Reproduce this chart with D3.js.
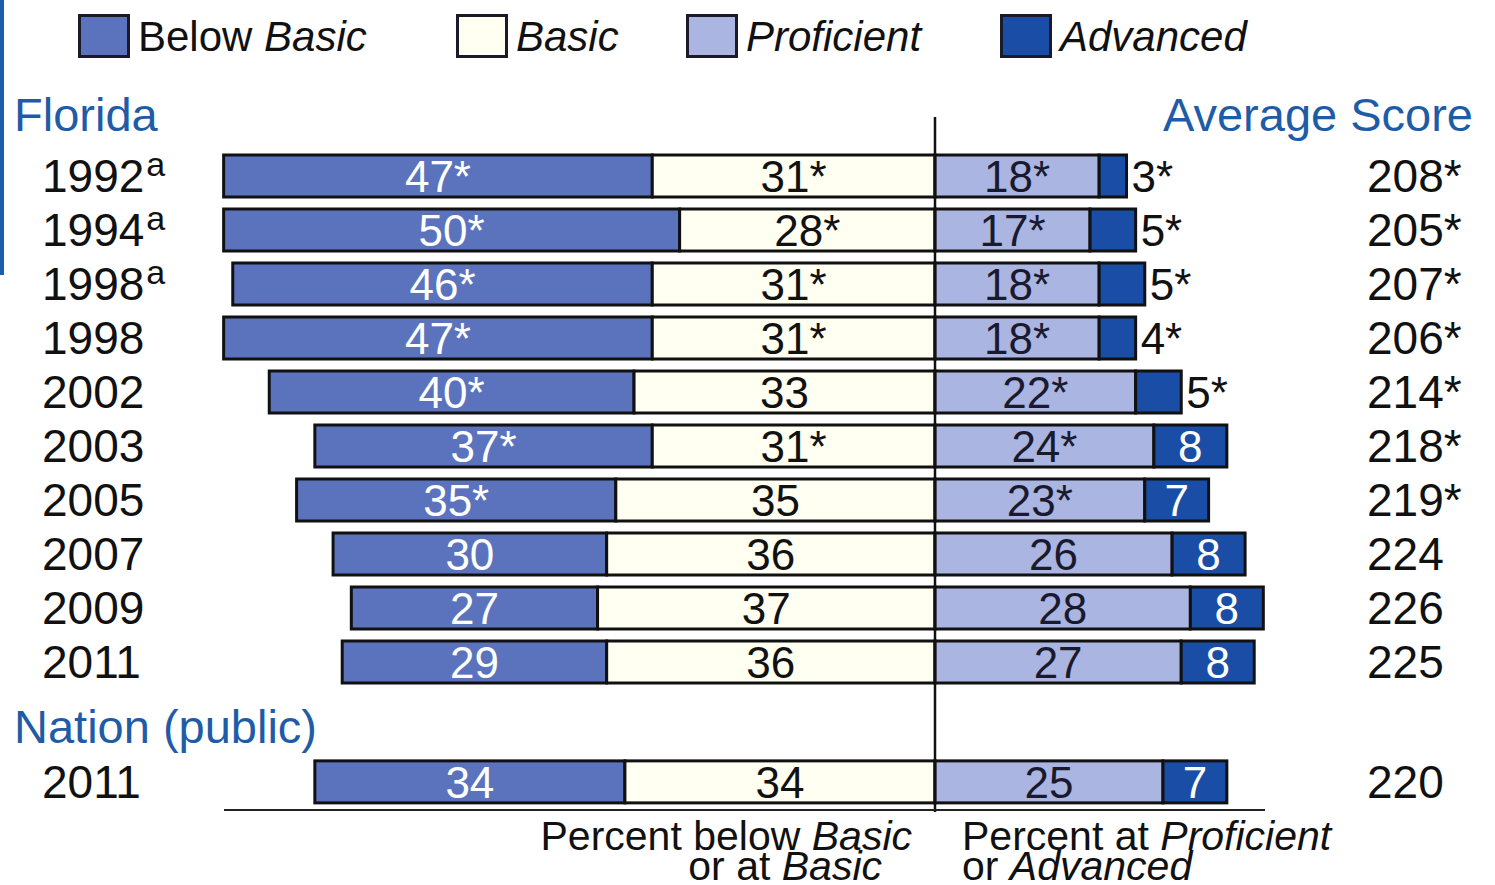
<!DOCTYPE html>
<html lang="en"><head><meta charset="utf-8">
<script src="https://cdn.jsdelivr.net/npm/d3@7/dist/d3.min.js"></script>
<style>
  body { margin: 0; background: #fff; }
  text { font-family: "Liberation Sans", Arial, sans-serif; }
</style>
</head>
<body>
<script>
// NAEP achievement levels, Florida + nation (public)
var years      = ["1992", "1994", "1998", "1998", "2002", "2003", "2005", "2007", "2009", "2011", "2011"];
var yearNote   = ["a", "a", "a", "", "", "", "", "", "", "", ""];
var group      = ["FL", "FL", "FL", "FL", "FL", "FL", "FL", "FL", "FL", "FL", "US"];
var belowBasic = [47, 50, 46, 47, 40, 37, 35, 30, 27, 29, 34];
var basic      = [31, 28, 31, 31, 33, 31, 35, 36, 37, 36, 34];
var proficient = [18, 17, 18, 18, 22, 24, 23, 26, 28, 27, 25];
var advanced   = [3, 5, 5, 4, 5, 8, 7, 8, 8, 8, 7];
var avgScore   = [208, 205, 207, 206, 214, 218, 219, 224, 226, 225, 220];
// significance flags (*)
var sigBelow   = [1, 1, 1, 1, 1, 1, 1, 0, 0, 0, 0];
var sigBasic   = [1, 1, 1, 1, 0, 1, 0, 0, 0, 0, 0];
var sigProf    = [1, 1, 1, 1, 1, 1, 1, 0, 0, 0, 0];
var sigAdv     = [1, 1, 1, 1, 1, 0, 0, 0, 0, 0, 0];
var sigScore   = [1, 1, 1, 1, 1, 1, 1, 0, 0, 0, 0];

var levels = ["Below Basic", "Basic", "Proficient", "Advanced"];
var colors = ["#5b73bd", "#fffff2", "#abb5e2", "#1a4ea6"];

var width = 1495, height = 885;
var svg = d3.select("body").append("svg")
  .attr("width", width).attr("height", height);

var rows = years.map(function(y, i) {
  return {
    i: i, year: y, note: yearNote[i], group: group[i],
    bb: belowBasic[i], b: basic[i], p: proficient[i], a: advanced[i], score: avgScore[i],
    sb: sigBelow[i], sba: sigBasic[i], sp: sigProf[i], sa: sigAdv[i], ss: sigScore[i]
  };
});

// slot position: nation row sits after a gap
function slot(d) { return d.group == "FL" ? d.i : d.i + 1.22; }

var x = d3.scaleLinear().domain([-80, 40]).range([935 - 80 * 9.12, 935 + 40 * 9.12]);
var y = d3.scaleLinear().domain([0, 9]).range([176, 662]);
var barH = 42;

// left edge stripe
svg.append("rect").attr("x", 0).attr("y", 0).attr("width", 4).attr("height", 275).attr("fill", "#1b5ea9");

// legend
var legX = [78, 456, 686, 1000];
var leg = svg.selectAll(".leg").data(levels).enter().append("g")
  .attr("transform", function(d, i) { return "translate(" + legX[i] + ",14)"; });
leg.append("rect").attr("x", 1.5).attr("y", 1.5).attr("width", 49).attr("height", 41)
  .attr("fill", function(d, i) { return colors[i]; })
  .attr("stroke", "#1a1a2a").attr("stroke-width", 3);
leg.append("text").attr("x", 60).attr("y", 37).attr("font-size", 42).attr("fill", "#111")
  .each(function(d) {
    var t = d3.select(this);
    if (d == "Below Basic") {
      t.append("tspan").text("Below ");
      t.append("tspan").attr("font-style", "italic").text("Basic");
    } else {
      t.append("tspan").attr("font-style", "italic").text(d);
    }
  });

// headers
var blue = "#1f5ca8";
svg.append("text").attr("x", 14).attr("y", 131).attr("font-size", 47).attr("fill", blue).text("Florida");
svg.append("text").attr("x", 14).attr("y", 743).attr("font-size", 47).attr("fill", blue).text("Nation (public)");
svg.append("text").attr("x", 1473).attr("y", 131).attr("font-size", 47).attr("fill", blue)
  .attr("text-anchor", "end").text("Average Score");

// year labels
var yl = svg.selectAll(".yr").data(rows).enter().append("text")
  .attr("x", 42).attr("y", function(d) { return y(slot(d)) + 16; })
  .attr("font-size", 46).attr("fill", "#111");
yl.append("tspan").text(function(d) { return d.year; });
yl.append("tspan").attr("dx", 2).attr("dy", -16).attr("font-size", 34).text(function(d) { return d.note; });

// bars
var segs = [];
rows.forEach(function(d) {
  var cy = y(slot(d));
  segs.push({ x0: -(d.bb + d.b), x1: -d.b, c: colors[0], cy: cy, v: d.bb, s: d.sb, tc: "#fff" });
  segs.push({ x0: -d.b, x1: 0, c: colors[1], cy: cy, v: d.b, s: d.sba, tc: "#111" });
  segs.push({ x0: 0, x1: d.p, c: colors[2], cy: cy, v: d.p, s: d.sp, tc: "#1a1a2e" });
  segs.push({ x0: d.p, x1: d.p + d.a, c: colors[3], cy: cy, v: d.a, s: d.sa, tc: "#fff", adv: true });
});

svg.selectAll(".seg").data(segs).enter().append("rect")
  .attr("x", function(d) { return x(d.x0); })
  .attr("y", function(d) { return d.cy - barH / 2; })
  .attr("width", function(d) { return x(d.x1) - x(d.x0); })
  .attr("height", barH)
  .attr("fill", function(d) { return d.c; })
  .attr("stroke", "#111").attr("stroke-width", 3);

svg.selectAll(".lbl").data(segs).enter().append("text")
  .attr("x", function(d) {
    if (d.adv && d.v <= 5) return x(d.x1) + 5;
    return (x(d.x0) + x(d.x1)) / 2;
  })
  .attr("y", function(d) { return d.cy + 16; })
  .attr("text-anchor", function(d) { return (d.adv && d.v <= 5) ? "start" : "middle"; })
  .attr("font-size", 44)
  .attr("fill", function(d) { return (d.adv && d.v <= 5) ? "#111" : d.tc; })
  .text(function(d) { return d.v + (d.s ? "*" : ""); });

// average scores
svg.selectAll(".sc").data(rows).enter().append("text")
  .attr("x", 1367).attr("y", function(d) { return y(slot(d)) + 16; })
  .attr("font-size", 46).attr("fill", "#111")
  .text(function(d) { return d.score + (d.ss ? "*" : ""); });

// center line and base line
svg.append("line").attr("x1", x(0)).attr("x2", x(0)).attr("y1", 117).attr("y2", 812)
  .attr("stroke", "#111").attr("stroke-width", 2.5);
svg.append("line").attr("x1", 224).attr("x2", 1265).attr("y1", 810).attr("y2", 810)
  .attr("stroke", "#222").attr("stroke-width", 2);

// axis titles
var fs = 41;
var t1 = svg.append("text").attr("x", 912).attr("y", 850).attr("font-size", fs).attr("text-anchor", "end").attr("fill", "#111");
t1.append("tspan").text("Percent below ");
t1.append("tspan").attr("font-style", "italic").text("Basic");
var t2 = svg.append("text").attr("x", 882).attr("y", 880).attr("font-size", fs).attr("text-anchor", "end").attr("fill", "#111");
t2.append("tspan").text("or at ");
t2.append("tspan").attr("font-style", "italic").text("Basic");
var t3 = svg.append("text").attr("x", 962).attr("y", 850).attr("font-size", fs).attr("fill", "#111");
t3.append("tspan").text("Percent at ");
t3.append("tspan").attr("font-style", "italic").text("Proficient");
var t4 = svg.append("text").attr("x", 962).attr("y", 880).attr("font-size", fs).attr("fill", "#111");
t4.append("tspan").text("or ");
t4.append("tspan").attr("font-style", "italic").text("Advanced");
</script>
</body></html>
